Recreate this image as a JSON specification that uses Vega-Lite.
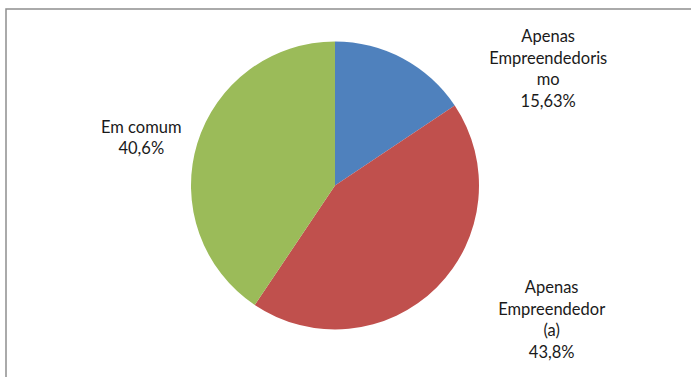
{
  "$schema": "https://vega.github.io/schema/vega-lite/v6.json",
  "width": 695,
  "height": 374,
  "autosize": {"type": "none"},
  "padding": {"left": 6, "top": 9, "right": 0, "bottom": 0},
  "background": "white",
  "view": {"stroke": "#8f8f8f", "strokeWidth": 1.5},
  "data": {
    "values": [
      {"k": 1, "cat": "Apenas Empreendedorismo", "value": 15.63, "label": "Apenas\nEmpreendedoris\nmo\n15,63%"},
      {"k": 2, "cat": "Apenas Empreendedor(a)", "value": 43.8, "label": "Apenas\nEmpreendedor\n(a)\n43,8%"},
      {"k": 3, "cat": "Em comum", "value": 40.6, "label": "Em comum\n40,6%"}
    ]
  },
  "encoding": {
    "theta": {"field": "value", "type": "quantitative", "stack": true},
    "order": {"field": "k", "type": "quantitative"}
  },
  "layer": [
    {
      "mark": {"type": "arc", "outerRadius": 144, "x": {"expr": "width/2 - 18.5"}, "y": {"expr": "height/2 - 10.5"}},
      "encoding": {
        "color": {
          "field": "cat",
          "type": "nominal",
          "sort": null,
          "scale": {"domain": ["Apenas Empreendedorismo", "Apenas Empreendedor(a)", "Em comum"], "range": ["#4F81BD", "#C0504D", "#9BBB59"]},
          "legend": null
        }
      }
    },
    {
      "mark": {
        "type": "text",
        "radius": 168,
        "x": {"expr": "width/2 - 18.5"},
        "y": {"expr": "height/2 - 10.5"},
        "font": "Lato",
        "fontSize": 16.5,
        "lineHeight": 21.5,
        "lineBreak": "\n",
        "align": "center",
        "baseline": "middle",
        "color": "#1a1a1a",
        "dx": {"expr": "datum.cat === 'Apenas Empreendedorismo' ? 134 : datum.cat === 'Apenas Empreendedor(a)' ? 98 : -33"},
        "dy": {"expr": "datum.cat === 'Apenas Empreendedorismo' ? 0 : datum.cat === 'Apenas Empreendedor(a)' ? -16 : -9"}
      },
      "encoding": {
        "text": {"field": "label", "type": "nominal"}
      }
    }
  ]
}
